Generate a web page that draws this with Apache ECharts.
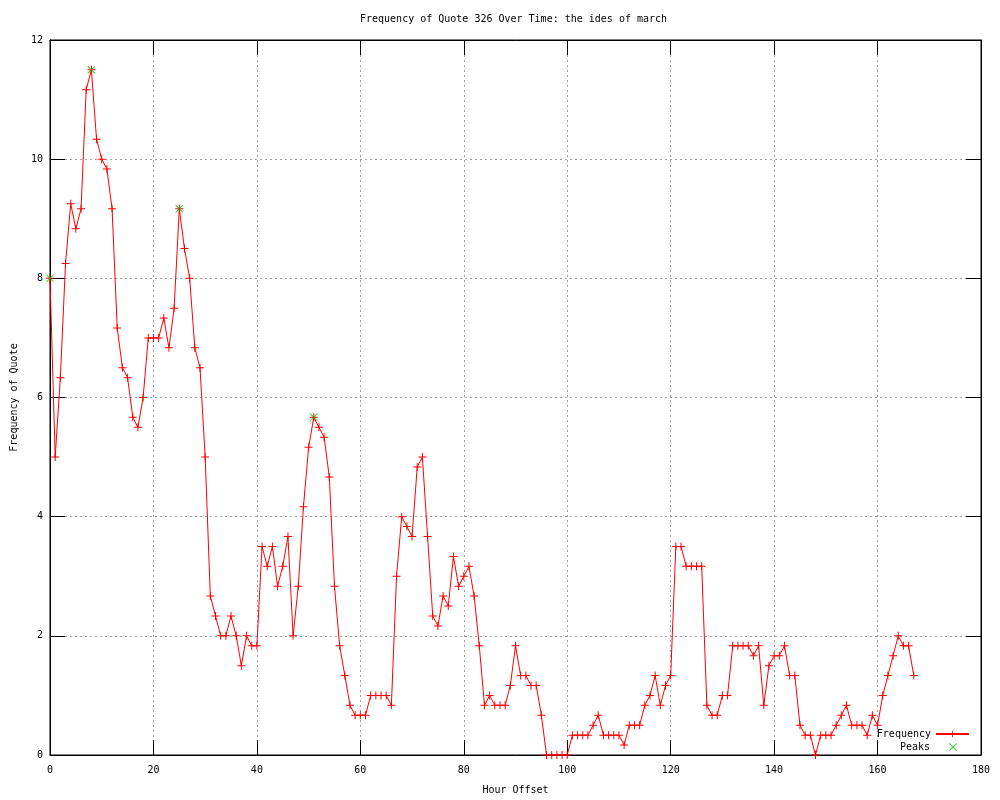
<!DOCTYPE html>
<html>
<head>
<meta charset="utf-8">
<script src="https://cdn.jsdelivr.net/npm/echarts@6/dist/echarts.min.js"></script>
<style>html,body{margin:0;padding:0;background:#fff}#c{width:1000px;height:800px}</style>
</head>
<body>
<div id="c"></div>
<script>
const titleText = 'Frequency of Quote 326 Over Time: the ides of march';
const xName = 'Hour Offset';
const yName = 'Frequency of Quote';

// frequency per hour offset (hours 0..167)
const frequency = [
  8, 5, 6.333, 8.25, 9.25, 8.833, 9.167, 11.167, 11.5, 10.333,
  10, 9.833, 9.167, 7.167, 6.5, 6.333, 5.667, 5.5, 6, 7,
  7, 7, 7.333, 6.833, 7.5, 9.167, 8.5, 8, 6.833, 6.5,
  5, 2.667, 2.333, 2, 2, 2.333, 2, 1.5, 2, 1.833,
  1.833, 3.5, 3.167, 3.5, 2.833, 3.167, 3.667, 2, 2.833, 4.167,
  5.167, 5.667, 5.5, 5.333, 4.667, 2.833, 1.833, 1.333, 0.833, 0.667,
  0.667, 0.667, 1, 1, 1, 1, 0.833, 3, 4, 3.833,
  3.667, 4.833, 5, 3.667, 2.333, 2.167, 2.667, 2.5, 3.333, 2.833,
  3, 3.167, 2.667, 1.833, 0.833, 1, 0.833, 0.833, 0.833, 1.167,
  1.833, 1.333, 1.333, 1.167, 1.167, 0.667, 0, 0, 0, 0,
  0, 0.333, 0.333, 0.333, 0.333, 0.5, 0.667, 0.333, 0.333, 0.333,
  0.333, 0.167, 0.5, 0.5, 0.5, 0.833, 1, 1.333, 0.833, 1.167,
  1.333, 3.5, 3.5, 3.167, 3.167, 3.167, 3.167, 0.833, 0.667, 0.667,
  1, 1, 1.833, 1.833, 1.833, 1.833, 1.667, 1.833, 0.833, 1.5,
  1.667, 1.667, 1.833, 1.333, 1.333, 0.5, 0.333, 0.333, 0, 0.333,
  0.333, 0.333, 0.5, 0.667, 0.833, 0.5, 0.5, 0.5, 0.333, 0.667,
  0.5, 1, 1.333, 1.667, 2, 1.833, 1.833, 1.333
];
const hours = frequency.map((_, i) => i);

const peakHours = [0, 8, 25, 51];
const peakValues = [8, 11.5, 9.167, 5.667];

const xTicks = [0, 20, 40, 60, 80, 100, 120, 140, 160, 180];
const yTicks = [0, 2, 4, 6, 8, 10, 12];

const FONT = 'DejaVu Sans Mono';
const PLUS = 'path://M3.5,0H4.5V3.5H8V4.5H4.5V8H3.5V4.5H0V3.5H3.5Z';
const CROSS = 'path://M0,0.7L0.7,0L8,7.3L7.3,8ZM7.3,0L8,0.7L0.7,8L0,7.3Z';

const chart = echarts.init(document.getElementById('c'), null, {renderer: 'canvas'});

const baseX = {
  type: 'value', min: xTicks[0], max: xTicks[xTicks.length - 1], interval: 20
};
const baseY = {
  type: 'value', min: yTicks[0], max: yTicks[yTicks.length - 1], interval: 2
};
const tick = {show: true, inside: true, length: 15, lineStyle: {color: '#000', width: 1}};
const line = {show: true, onZero: false, lineStyle: {color: '#000', width: 1}};
const split = {show: true, lineStyle: {color: '#a0a0a0', width: 1, type: [2, 3]}};

chart.setOption({
  animation: false,
  backgroundColor: '#fff',
  title: {
    text: titleText,
    left: 360, top: 14, padding: 0,
    textStyle: {fontFamily: FONT, fontSize: 10, fontWeight: 'normal', color: '#000'}
  },
  grid: {left: 50, top: 40, width: 931, height: 720, show: true, borderColor: '#000', borderWidth: 1, containLabel: false},
  legend: [
    {
      data: ['Frequency'], right: 30, top: 729, align: 'right', orient: 'vertical',
      itemWidth: 33, itemHeight: 8, itemGap: 0, padding: 0,
      textStyle: {fontFamily: FONT, fontSize: 10, color: '#000'}
    },
    {
      data: ['Peaks'], right: 43, top: 742, align: 'right', orient: 'vertical',
      itemWidth: 8, itemHeight: 8, itemGap: 0, padding: 0,
      textStyle: {fontFamily: FONT, fontSize: 10, color: '#000', padding: [0, 14, 0, 0]}
    }
  ],
  xAxis: [
    Object.assign({}, baseX, {
      position: 'bottom', name: xName, nameLocation: 'middle', nameGap: 30,
      nameTextStyle: {fontFamily: FONT, fontSize: 10, color: '#000'},
      axisLine: line, axisTick: tick, splitLine: split,
      axisLabel: {fontFamily: FONT, fontSize: 10, color: '#000', margin: 10}
    }),
    Object.assign({}, baseX, {
      position: 'top', axisLine: line, axisTick: tick, splitLine: {show: false},
      axisLabel: {show: false}
    })
  ],
  yAxis: [
    Object.assign({}, baseY, {
      position: 'left', name: yName, nameLocation: 'middle', nameGap: 31, nameRotate: 90,
      nameTextStyle: {fontFamily: FONT, fontSize: 10, color: '#000'},
      axisLine: line, axisTick: tick, splitLine: split,
      axisLabel: {fontFamily: FONT, fontSize: 10, color: '#000', margin: 7}
    }),
    Object.assign({}, baseY, {
      position: 'right', axisLine: line, axisTick: tick, splitLine: {show: false},
      axisLabel: {show: false}
    })
  ],
  series: [
    {
      name: 'Frequency', type: 'line', xAxisIndex: 0, yAxisIndex: 0,
      data: hours.map((h, i) => [h, frequency[i]]),
      symbol: PLUS, symbolSize: 8, showSymbol: true, showAllSymbol: true,
      lineStyle: {color: '#ff0000', width: 1},
      itemStyle: {color: '#ff0000'},
      emphasis: {disabled: true}, z: 2
    },
    {
      name: 'Peaks', type: 'scatter', xAxisIndex: 0, yAxisIndex: 0,
      data: peakHours.map((h, i) => [h, peakValues[i]]),
      symbol: CROSS, symbolSize: 8,
      itemStyle: {color: '#00c000'},
      emphasis: {disabled: true}, z: 3
    }
  ]
});
</script>
</body>
</html>
